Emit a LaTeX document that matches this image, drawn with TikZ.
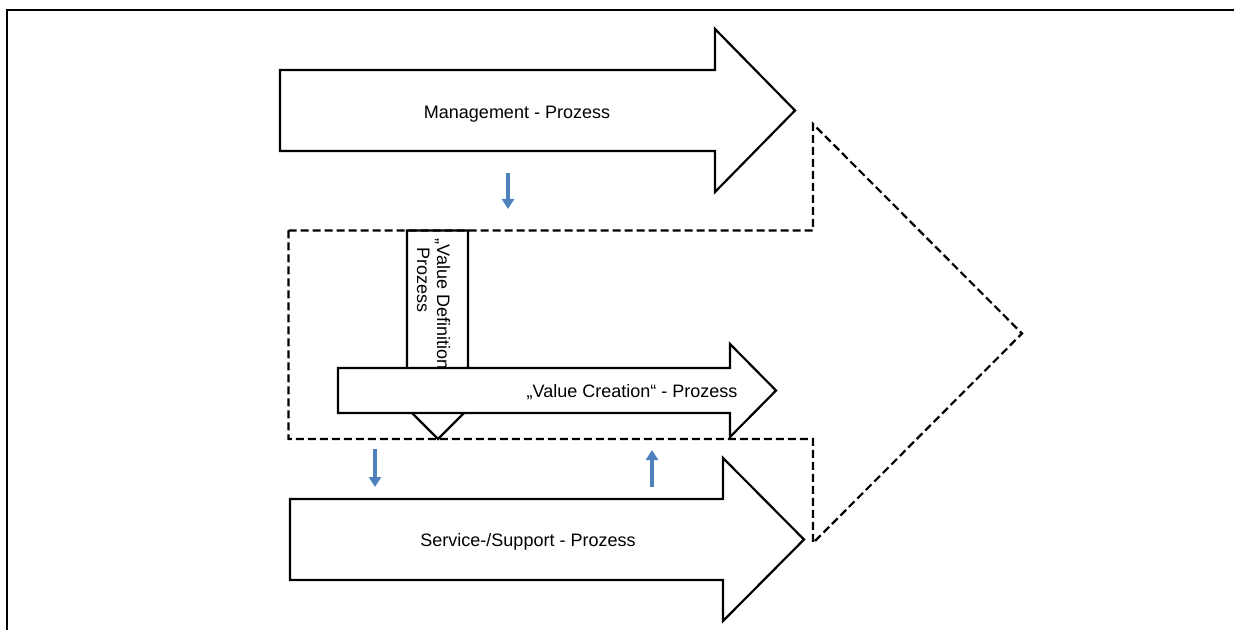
\documentclass[tikz,border=0pt]{standalone}
\usepackage{fontspec}
\setmainfont{Liberation Sans}
\usetikzlibrary{arrows.meta}
\definecolor{flowblue}{RGB}{79,129,189}
\begin{document}
\begin{tikzpicture}[x=0.5pt,y=-0.5pt,
  blockarrow/.style={draw=black,fill=white,line width=1.1pt,line join=miter},
  scopebox/.style={draw=black,line width=1.1pt,dash pattern=on 4pt off 2pt,line join=miter},
  label/.style={font=\fontsize{9}{10}\selectfont,inner sep=0pt},
  flow/.style={draw=flowblue,line width=1.75pt,-{Triangle[width=6pt,length=5pt]}}]
\useasboundingbox (0,0) rectangle (1234,630);

% outer frame (open to the right and bottom)
\draw[line width=1.1pt] (1234,10) -- (7,10) -- (7,630);

% management process
\draw[blockarrow] (280,70) -- (715,70) -- (715,29) -- (795,110.5) -- (715,192)
  -- (715,151) -- (280,151) -- cycle;
\node[label,anchor=base] (mgmt) at (517,118.5) {Management - Prozess};

% service / support process
\draw[blockarrow] (290,499) -- (723,499) -- (723,458) -- (804,539.5) -- (723,621)
  -- (723,580) -- (290,580) -- cycle;
\node[label,anchor=base] (svc) at (528,546) {Service-/Support - Prozess};

% value definition process (vertical)
\draw[blockarrow] (407,230.5) -- (407,400) -- (399,400) -- (438,439) -- (477,400)
  -- (468,400) -- (468,230.5) -- cycle;
\node[label,rotate=-90,anchor=north west,align=left] (vd) at (450.5,238)
  {„Value Definition“\\\hspace{4.5pt}Prozess};

% value creation process
\draw[blockarrow] (338,368) -- (730,368) -- (730,344) -- (776,390.5) -- (730,437)
  -- (730,413) -- (338,413) -- cycle;
\node[label,anchor=base] (vc) at (632,397.5) {„Value Creation“ - Prozess};

% enclosing core process (dashed)
\draw[scopebox] (288.5,230.5) -- (813,230.5) -- (813,124) -- (1022,333.5) -- (813,543)
  -- (813,439) -- (288.5,439) -- cycle;

% flows between the processes
\coordinate (f1s) at (508,173);
\coordinate (f1e) at (508,209);
\coordinate (f2s) at (375,449);
\coordinate (f2e) at (375,487);
\coordinate (f3s) at (652,487);
\coordinate (f3e) at (652,450);
\draw[flow] (f1s) -- (f1e);
\draw[flow] (f2s) -- (f2e);
\draw[flow] (f3s) -- (f3e);
\end{tikzpicture}
\end{document}
